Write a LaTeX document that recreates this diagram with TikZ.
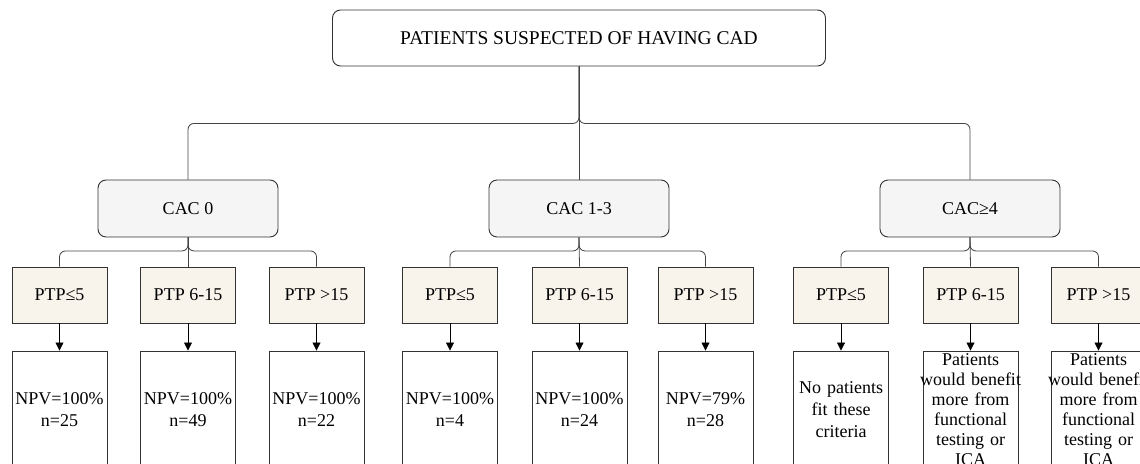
\documentclass[tikz,border=0pt]{standalone}
\usepackage{fontspec}
\setmainfont{Liberation Serif}
\usetikzlibrary{arrows.meta}

\definecolor{cacgray}{HTML}{F5F5F5}
\definecolor{ptpbeige}{HTML}{F8F4EC}
\definecolor{boxline}{HTML}{333333}
\definecolor{linkline}{HTML}{444444}

\begin{document}
\begin{tikzpicture}[x=1pt, y=-1pt, font=\fontsize{18}{20}\selectfont,
    >={Triangle[length=8pt,width=8pt]},
    topbox/.style={draw=boxline, line width=0.9pt, rounded corners=8pt, minimum width=493pt, minimum height=56pt},
    cacbox/.style={draw=boxline, line width=0.9pt, fill=cacgray, rounded corners=8pt, minimum width=180pt, minimum height=57pt},
    ptpbox/.style={draw=boxline, line width=0.9pt, fill=ptpbeige, minimum width=95pt, minimum height=56pt},
    resbox/.style={draw=boxline, line width=0.9pt, minimum height=118pt, text width=95pt, inner xsep=0pt, inner ysep=0pt, align=center},
    link/.style={draw=linkline, line width=0.8pt, rounded corners=6pt}]
      \useasboundingbox (0,0) rectangle (1140,463);
      \clip (0,0) rectangle (1140,463);

      %% top level
      \node[topbox] (patients) at (579,38) {\fontsize{19.5}{23}\selectfont PATIENTS SUSPECTED OF HAVING CAD};

      %% CAC groups
      \node[cacbox] (cac0) at (188,208.5) {CAC 0};
      \node[cacbox] (cac13) at (579,208.5) {CAC 1-3};
      \node[cacbox] (cac4) at (970,208.5) {CAC≥4};

      \draw[link] (patients.south) -- ++(0,57) -| (cac0.north);
      \draw[link] (patients.south) -- (cac13.north);
      \draw[link] (patients.south) -- ++(0,57) -| (cac4.north);

      %% PTP boxes
      \node[ptpbox] (ptpa1) at (59.5,295) {PTP≤5};
      \node[ptpbox] (ptpa2) at (188,295) {PTP 6-15};
      \node[ptpbox] (ptpa3) at (316.5,295) {PTP >15};
      \node[ptpbox] (ptpb1) at (450,295) {PTP≤5};
      \node[ptpbox] (ptpb2) at (579.5,295) {PTP 6-15};
      \node[ptpbox] (ptpb3) at (705.5,295) {PTP >15};
      \node[ptpbox] (ptpc1) at (841,295) {PTP≤5};
      \node[ptpbox] (ptpc2) at (970.5,295) {PTP 6-15};
      \node[ptpbox] (ptpc3) at (1098.5,295) {PTP >15};

      \draw[link] (cac0.south) -- ++(0,13.5) -| (ptpa1.north);
      \draw[link] (cac0.south) -- (ptpa2.north);
      \draw[link] (cac0.south) -- ++(0,13.5) -| (ptpa3.north);
      \draw[link] (cac13.south) -- ++(0,13.5) -| (ptpb1.north);
      \draw[link] (cac13.south) -- (ptpb2.north);
      \draw[link] (cac13.south) -- ++(0,13.5) -| (ptpb3.north);
      \draw[link] (cac4.south) -- ++(0,13.5) -| (ptpc1.north);
      \draw[link] (cac4.south) -- (ptpc2.north);
      \draw[link] (cac4.south) -- ++(0,13.5) -| (ptpc3.north);

      %% outcomes
      \node[resbox] (resa1) at (59.5,410) {NPV=100\%\\[2pt]n=25};
      \node[resbox] (resa2) at (188,410) {NPV=100\%\\[2pt]n=49};
      \node[resbox] (resa3) at (316.5,410) {NPV=100\%\\[2pt]n=22};
      \node[resbox] (resb1) at (450,410) {NPV=100\%\\[2pt]n=4};
      \node[resbox] (resb2) at (579.5,410) {NPV=100\%\\[2pt]n=24};
      \node[resbox] (resb3) at (705.5,410) {NPV=79\%\\[2pt]n=28};
      \node[resbox] (resc1) at (841,410) {No patients\\[2pt]fit these\\[2pt]criteria};
      \node[resbox] (resc2) at (970.5,410) {Patients\\\makebox[\linewidth]{would benefit}\\more from\\functional\\testing or\\ICA};
      \node[resbox] (resc3) at (1098.5,410) {Patients\\\makebox[\linewidth]{would benefit}\\more from\\functional\\testing or\\ICA};

      \draw[thick,black,->] (ptpa1.south) -- (resa1.north);
      \draw[thick,black,->] (ptpa2.south) -- (resa2.north);
      \draw[thick,black,->] (ptpa3.south) -- (resa3.north);
      \draw[thick,black,->] (ptpb1.south) -- (resb1.north);
      \draw[thick,black,->] (ptpb2.south) -- (resb2.north);
      \draw[thick,black,->] (ptpb3.south) -- (resb3.north);
      \draw[thick,black,->] (ptpc1.south) -- (resc1.north);
      \draw[thick,black,->] (ptpc2.south) -- (resc2.north);
      \draw[thick,black,->] (ptpc3.south) -- (resc3.north);

    \end{tikzpicture}
\end{document}
